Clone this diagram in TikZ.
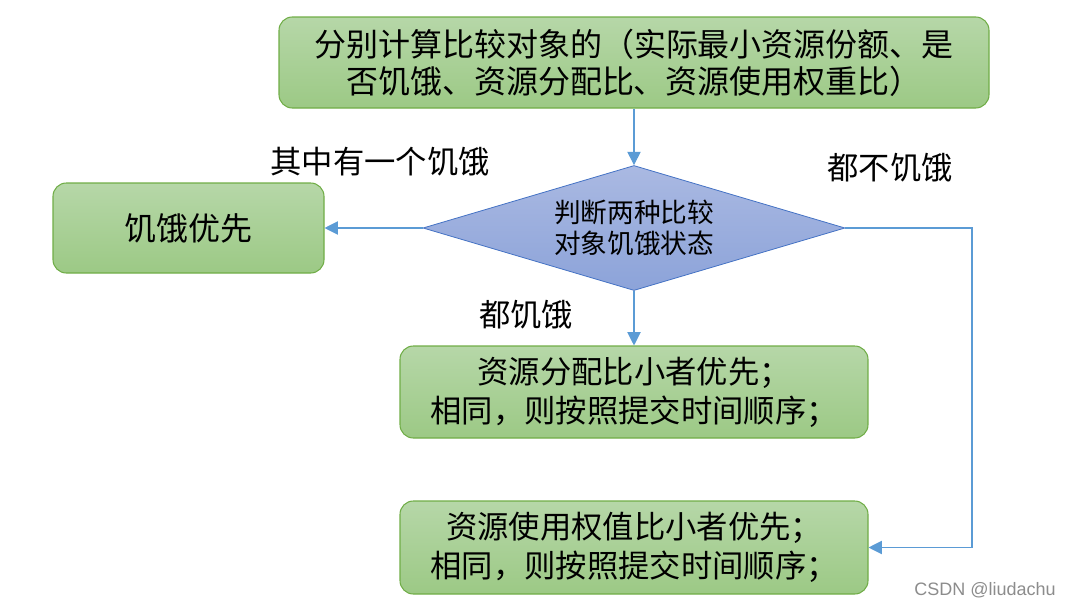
\documentclass[tikz,border=0pt]{standalone}
\usepackage{fontspec}
\setmainfont{Noto Sans CJK SC}
\newfontfamily\wmfont{Liberation Sans}
\usetikzlibrary{shapes.geometric,arrows.meta}
\definecolor{gtop}{HTML}{B6D7A8}
\definecolor{gbot}{HTML}{9CC985}
\definecolor{gedge}{HTML}{70AD47}
\definecolor{btop}{HTML}{AAB9E2}
\definecolor{bbot}{HTML}{8CA3D9}
\definecolor{bedge}{HTML}{4472C4}
\definecolor{conncol}{HTML}{5B9BD5}
\tikzset{
  gbox/.style={draw=gedge, line width=0.8pt, rounded corners=10pt, top color=gtop, bottom color=gbot, inner sep=0pt, align=center, text=black},
  dec/.style={draw=bedge, line width=0.6pt, shape=diamond, aspect=3.376, top color=btop, bottom color=bbot, inner sep=0pt, align=center},
  conn/.style={draw=conncol, line width=0.8pt, -{Triangle[length=10pt,width=10pt]}},
  lbl/.style={inner sep=0pt, font=\fontsize{23.5pt}{27pt}\selectfont}
}
\begin{document}
\begin{tikzpicture}[x=0.75pt,y=-0.75pt]
\useasboundingbox (0,0) rectangle (1072,607);
\node[gbox, minimum width=532.5pt, minimum height=68.25pt, font=\fontsize{24pt}{27.75pt}\selectfont] (top) at (634,62.5)
  {分别计算比较对象的（实际最小资源份额、是\\否饥饿、资源分配比、资源使用权重比）};
\node[dec, minimum width=316.5pt, minimum height=93.75pt, font=\fontsize{20pt}{23.25pt}\selectfont] (d) at (634,228)
  {判断两种比较\\对象饥饿状态};
\node[gbox, minimum width=203.25pt, minimum height=67.5pt, font=\fontsize{24pt}{28pt}\selectfont] (starve) at (188.5,228) {饥饿优先};
\node[gbox, minimum width=351pt, minimum height=69pt, font=\fontsize{23.5pt}{29.25pt}\selectfont] (alloc) at (634,392)
  {资源分配比小者优先；\\相同，则按照提交时间顺序；};
\node[gbox, minimum width=351pt, minimum height=69.75pt, font=\fontsize{23.5pt}{29.25pt}\selectfont] (weight) at (634,547.5)
  {资源使用权值比小者优先；\\相同，则按照提交时间顺序；};
\coordinate (r) at (972,228);
\draw[conn] (top) -- (d);
\draw[conn] (d.west) -- (starve.east);
\draw[conn] (d.south) -- (alloc.north);
\draw[conn] (d.east) -- (r) |- (weight.east);
\node[lbl] (l1) at (380,162) {其中有一个饥饿};
\node[lbl] (l2) at (890,168) {都不饥饿};
\node[lbl] (l3) at (526,315) {都饥饿};
\node[inner sep=0pt, text=black!45, font=\wmfont\fontsize{13.5pt}{16pt}\selectfont] (wm) at (985,590) {CSDN @liudachu};
\end{tikzpicture}
\end{document}
